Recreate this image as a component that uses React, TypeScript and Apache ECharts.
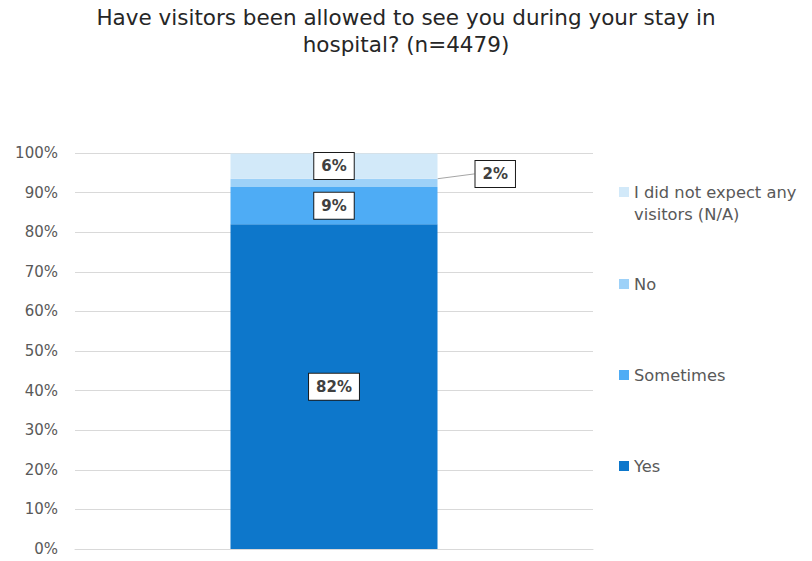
import React, { useEffect, useRef } from "react";
import * as echarts from "echarts";

const titleText = "Have visitors been allowed to see you during your stay in\nhospital? (n=4479)";
const categories = [""];
const seriesNames = ["Yes", "Sometimes", "No", "I did not expect any visitors (N/A)"];
const yesValues = [82.0];
const sometimesValues = [9.4];
const noValues = [2.1];
const naValues = [6.4];
const seriesColors = ["#0D77CB", "#4EACF5", "#9DD1F8", "#D2E9F9"];
const yTicks = [0, 10, 20, 30, 40, 50, 60, 70, 80, 90, 100];

const FONT = "'DejaVu Sans', sans-serif";

export default function App() {
  const ref = useRef<HTMLDivElement>(null);
  useEffect(() => {
    if (!ref.current) return;
    const chart = echarts.init(ref.current, null, { renderer: "svg" });
    const labelBase = {
      show: true,
      formatter: (p: any) => Math.round(p.value) + "%",
      backgroundColor: "#ffffff",
      borderColor: "#1a1a1a",
      borderWidth: 1,
      padding: [6, 7, 5, 7],
      fontWeight: "bold",
      fontSize: 15,
      color: "#404040",
      fontFamily: FONT,
    };
    const values = [yesValues, sometimesValues, noValues, naValues];
    const series: any[] = seriesNames.map((name, i) => {
      const s: any = {
        name,
        type: "bar",
        stack: "total",
        data: values[i],
        barWidth: 207,
        itemStyle: { color: seriesColors[i] },
        label: { ...labelBase, position: "inside" },
      };
      if (name === "No") {
        s.label = { ...labelBase, position: "right", distance: 5 };
        s.labelLayout = { dx: 33, dy: -9 };
        s.labelLine = { show: true, lineStyle: { color: "#a6a6a6", width: 1 } };
      }
      return s;
    });
    const legendText = { color: "#595959", fontSize: 16.3, fontFamily: FONT, lineHeight: 22 };
    const legendCenters = [466, 375, 284, 192];
    const legends = seriesNames.map((name, i) => {
      const isNA = i === 3;
      return {
        data: [name],
        orient: "vertical",
        left: 619,
        top: isNA ? legendCenters[i] - 33 : legendCenters[i] - 11,
        padding: 0,
        itemWidth: 10,
        itemHeight: 10,
        itemGap: 0,
        icon: "rect",
        formatter: isNA ? () => " \nI did not expect any\nvisitors (N/A)" : undefined,
        textStyle: legendText,
      };
    });
    chart.setOption({
      animation: false,
      title: {
        text: titleText,
        left: "center",
        top: 4,
        padding: 0,
        textStyle: {
          fontSize: 21.5,
          fontWeight: "normal",
          color: "#262626",
          fontFamily: FONT,
          lineHeight: 27,
        },
      },
      legend: legends,
      grid: { left: 75, right: 219, top: 153, bottom: 12, containLabel: false },
      xAxis: {
        type: "category",
        data: categories,
        axisLine: { show: true, lineStyle: { color: "#d9d9d9" } },
        axisTick: { show: false },
        axisLabel: { show: false },
      },
      yAxis: {
        type: "value",
        min: yTicks[0],
        max: yTicks[yTicks.length - 1],
        interval: 10,
        axisLine: { show: false },
        axisTick: { show: false },
        splitLine: { lineStyle: { color: "#d9d9d9", width: 1 } },
        axisLabel: {
          formatter: "{value}%",
          color: "#595959",
          fontSize: 15,
          fontFamily: FONT,
          margin: 17,
        },
      },
      series,
    });
    return () => chart.dispose();
  }, []);
  return (
    <div
      ref={ref}
      style={{ position: "absolute", left: 0, top: 0, width: 812, height: 561 }}
    />
  );
}
